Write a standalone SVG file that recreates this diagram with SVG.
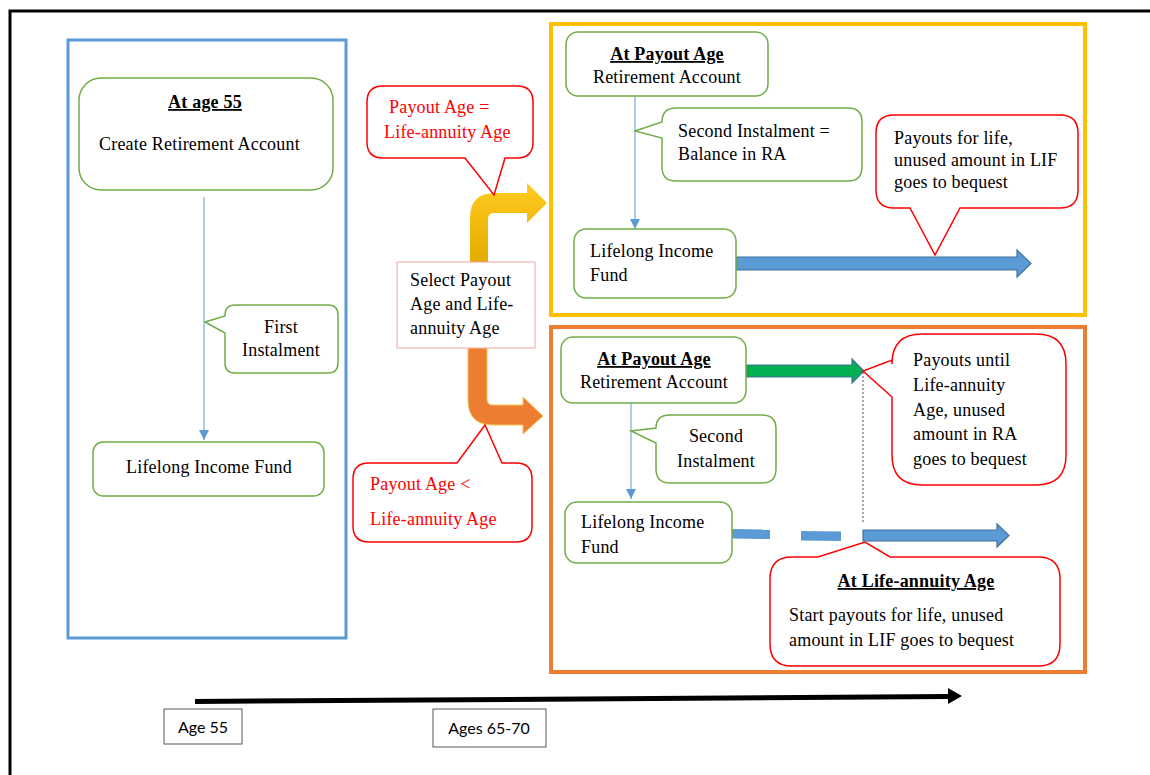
<svg xmlns="http://www.w3.org/2000/svg" width="1150" height="775" viewBox="0 0 1150 775">
<style>
.t{font-family:"Liberation Serif","Times New Roman",serif;font-size:18px;letter-spacing:0.2px;fill:#000}
.b{font-weight:bold;text-decoration:underline}
.r{fill:#ff0000}
.m{text-anchor:middle}
.s{font-family:Lato,"Liberation Sans",sans-serif;font-size:16px;fill:#000;text-anchor:middle}
.g{fill:#fff;stroke:#70ad47;stroke-width:1.5}
.c{fill:#fff;stroke:#ff0000;stroke-width:1.5}
.ln{stroke:#5b9bd5;stroke-width:1;fill:none;marker-end:url(#ah)}
.ba{fill:#5b9bd5;stroke:#41719c;stroke-width:1.2}
</style>
<defs>
<marker id="ah" viewBox="0 0 10 10" refX="10" refY="5" markerWidth="10" markerHeight="10" markerUnits="userSpaceOnUse" orient="auto">
<path d="M0,0 L10,5 L0,10 Z" fill="#5b9bd5"/>
</marker>
<linearGradient id="yg" gradientUnits="userSpaceOnUse" x1="0" y1="190" x2="0" y2="262">
<stop offset="0" stop-color="#ffc81e"/>
<stop offset="1" stop-color="#e2ab00"/>
</linearGradient>
</defs>
<rect width="1150" height="775" fill="#fff"/>
<path d="M10,775 V11 H1150" fill="none" stroke="#000" stroke-width="3"/>

<g id="frames">
<rect x="68" y="40" width="278" height="598" fill="none" stroke="#5b9bd5" stroke-width="3"/>
<rect x="551" y="24" width="534" height="291" fill="none" stroke="#ffc000" stroke-width="4"/>
<rect x="551" y="327" width="534" height="345" fill="none" stroke="#ed7d31" stroke-width="4"/>
</g>

<g id="connectors">
<line class="ln" x1="204" y1="197" x2="204" y2="440"/>
<line class="ln" x1="635" y1="96" x2="635" y2="229"/>
<line class="ln" x1="631" y1="403" x2="631" y2="499"/>
<path d="M470,262 V218 Q470,193 495,193 H527 V183 L547,203 L527,223 V213 H494 Q488,213 488,219 V262 Z" fill="url(#yg)"/>
<path d="M468,348 V400 Q468,425 493,425 H523 V434 L543,416 L523,397 V405 H493 Q487,405 487,399 V348 Z" fill="#ed7d31" stroke="#f7c35a" stroke-width="1"/>
<path class="ba" d="M736,257 H1017 V250 L1031,263.5 L1017,277 V270 H736 Z"/>
<path d="M746,365 H852 V359 L864,371 L852,383 V377 H746 Z" fill="#00b050" stroke="#41719c" stroke-width="1.2"/>
<polygon points="732,529 770,529.5 770,539 732,538.5" fill="#5b9bd5"/>
<polygon points="801,531 841,531.5 841,541 801,540.5" fill="#5b9bd5"/>
<path class="ba" d="M863,530 H997 V524 L1009,535.5 L997,547 V541 H863 Z"/>
<line x1="863" y1="372" x2="863" y2="522" stroke="#44546a" stroke-width="1" stroke-dasharray="2,2"/>
<path d="M195,699 L948,694 V688 L962,696 L948,704 V699 L195,704 Z" fill="#000"/>
</g>

<g id="n-age55">
<rect class="g" x="79" y="78" width="254" height="112" rx="22"/>
<text class="t b m" x="205" y="108">At age 55</text>
<text class="t" x="99" y="150">Create Retirement Account</text>
</g>
<g id="n-first">
<path class="g" d="M235,305 H328 Q338,305 338,315 V363 Q338,373 328,373 H235 Q225,373 225,363 V333 L205,322 L225,316 V315 Q225,305 235,305 Z"/>
<text class="t m" x="281" y="333">First</text>
<text class="t m" x="281" y="356">Instalment</text>
</g>
<g id="n-lif-left">
<rect class="g" x="93" y="442" width="231" height="54" rx="10"/>
<text class="t m" x="209" y="473">Lifelong Income Fund</text>
</g>

<g id="n-eq">
<path class="c" d="M383,86 H517 Q533,86 533,102 V142 Q533,158 517,158 H505 L494,195 L465,158 H383 Q367,158 367,142 V102 Q367,86 383,86 Z"/>
<text class="t r" x="389" y="113">Payout Age =</text>
<text class="t r" x="384" y="138">Life-annuity Age</text>
</g>
<g id="n-select">
<rect x="397" y="262" width="138" height="86" fill="#fff" stroke="#f4a0a0" stroke-width="1"/>
<text class="t" x="410" y="286">Select Payout</text>
<text class="t" x="410" y="310">Age and Life-</text>
<text class="t" x="410" y="334">annuity Age</text>
</g>
<g id="n-lt">
<path class="c" d="M369,463 H457 L485,425 L502,463 H516 Q532,463 532,479 V526 Q532,542 516,542 H369 Q353,542 353,526 V479 Q353,463 369,463 Z"/>
<text class="t r" x="370" y="490">Payout Age &lt;</text>
<text class="t r" x="370" y="525">Life-annuity Age</text>
</g>

<g id="n-payout-top">
<rect class="g" x="566" y="32" width="202" height="64" rx="12"/>
<text class="t b m" x="667" y="60">At Payout Age</text>
<text class="t m" x="667" y="83">Retirement Account</text>
</g>
<g id="n-second-top">
<path class="g" d="M676,108 H848 Q862,108 862,122 V167 Q862,181 848,181 H676 Q662,181 662,167 V138 L635,131 L662,122 Q662,108 676,108 Z"/>
<text class="t" x="678" y="137">Second Instalment =</text>
<text class="t" x="678" y="160">Balance in RA</text>
</g>
<g id="n-lif-top">
<rect class="g" x="574" y="229" width="162" height="69" rx="12"/>
<text class="t" x="590" y="257">Lifelong Income</text>
<text class="t" x="590" y="281">Fund</text>
</g>
<g id="n-life">
<path class="c" d="M894,115 H1060 Q1078,115 1078,133 V190 Q1078,208 1060,208 H960 L935,255 L910,208 H894 Q876,208 876,190 V133 Q876,115 894,115 Z"/>
<text class="t" x="894" y="144">Payouts for life,</text>
<text class="t" x="894" y="166">unused amount in LIF</text>
<text class="t" x="894" y="188">goes to bequest</text>
</g>

<g id="n-payout-bot">
<rect class="g" x="561" y="337" width="185" height="66" rx="12"/>
<text class="t b m" x="654" y="365">At Payout Age</text>
<text class="t m" x="654" y="388">Retirement Account</text>
</g>
<g id="n-until">
<path class="c" d="M922,334 H1036 Q1066,334 1066,364 V455 Q1066,485 1036,485 H922 Q892,485 892,455 V397 L863,371 L892,360 V364 Q892,334 922,334 Z"/>
<text class="t" x="913" y="366">Payouts until</text>
<text class="t" x="913" y="391">Life-annuity</text>
<text class="t" x="913" y="416">Age, unused</text>
<text class="t" x="913" y="440">amount in RA</text>
<text class="t" x="913" y="465">goes to bequest</text>
</g>
<g id="n-second-bot">
<path class="g" d="M670,415 H762 Q776,415 776,429 V469 Q776,483 762,483 H670 Q656,483 656,469 V443 L631,431 L656,428 Q656,415 670,415 Z"/>
<text class="t m" x="716" y="442">Second</text>
<text class="t m" x="716" y="467">Instalment</text>
</g>
<g id="n-lif-bot">
<rect class="g" x="565" y="502" width="167" height="61" rx="12"/>
<text class="t" x="581" y="528">Lifelong Income</text>
<text class="t" x="581" y="553">Fund</text>
</g>
<g id="n-annuity">
<path class="c" d="M792,557 H818 L865,542 L890,557 H1038 Q1060,557 1060,579 V644 Q1060,666 1038,666 H792 Q770,666 770,644 V579 Q770,557 792,557 Z"/>
<text class="t b m" x="916" y="587">At Life-annuity Age</text>
<text class="t" x="789" y="621">Start payouts for life, unused</text>
<text class="t" x="789" y="646">amount in LIF goes to bequest</text>
</g>

<g id="n-age55-label">
<rect x="164" y="709" width="78" height="35" fill="#fff" stroke="#595959" stroke-width="1"/>
<text class="s" x="203" y="733">Age 55</text>
</g>
<g id="n-ages6570-label">
<rect x="433" y="709" width="113" height="38" fill="#fff" stroke="#595959" stroke-width="1"/>
<text class="s" x="489" y="734">Ages 65-70</text>
</g>
</svg>
